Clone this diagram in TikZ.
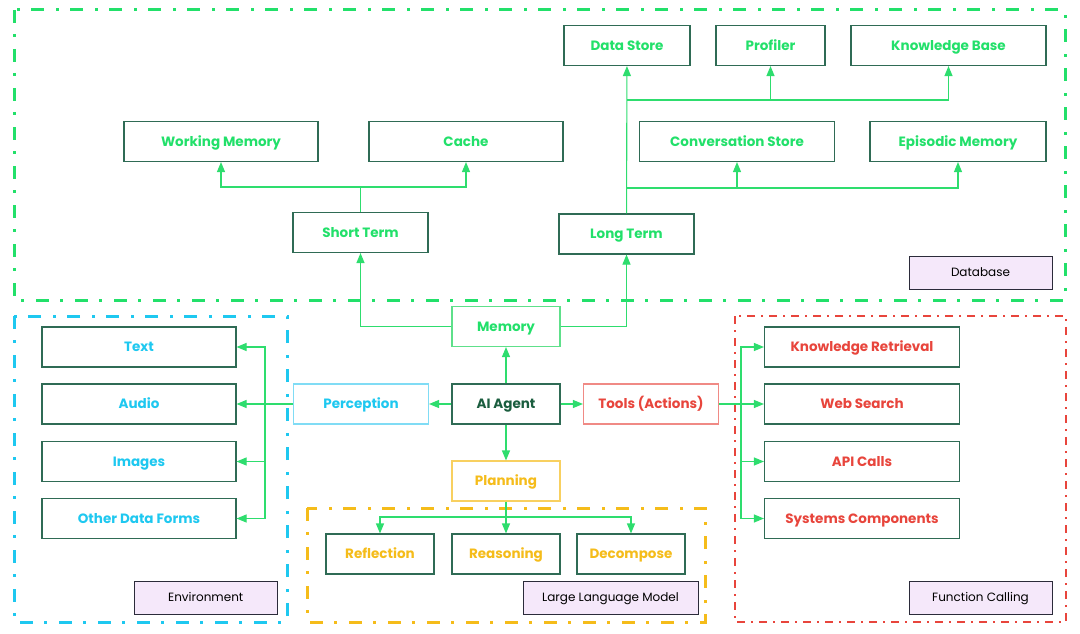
\documentclass[tikz,border=0pt]{standalone}
\usepackage{fontspec}
\setmainfont{Poppins}
\usepackage{xcolor}
\usepackage{tikz}
\usetikzlibrary{calc,positioning,arrows.meta}

\definecolor{dbgreen}{HTML}{22E06A}
\definecolor{boxline}{HTML}{2F6B55}
\definecolor{agenttext}{HTML}{1B5E3F}
\definecolor{envcyan}{HTML}{1EC8F0}
\definecolor{envline}{HTML}{80DCF5}
\definecolor{toolred}{HTML}{E8453C}
\definecolor{toolline}{HTML}{F08A85}
\definecolor{llmyellow}{HTML}{F5BC1A}
\definecolor{llmline}{HTML}{F8D060}
\definecolor{memline}{HTML}{5EE08A}
\definecolor{link}{HTML}{2EDD6E}
\definecolor{tagfill}{HTML}{F5E8FA}
\definecolor{tagline}{HTML}{2B2B3A}

\begin{document}
\begin{tikzpicture}[
	x=1pt, y=-1pt,
	>={Triangle[length=10pt,width=8pt]},
	box/.style={draw=boxline, line width=1.1pt, fill=white, inner sep=0pt,
		minimum height=40pt, text height=9.5pt, text depth=0pt,
		font=\bfseries\fontsize{13.5}{15}\selectfont},
	dbbox/.style={box, text=dbgreen},
	envbox/.style={box, text=envcyan, minimum width=194pt},
	toolbox/.style={box, text=toolred, minimum width=195pt},
	llmbox/.style={box, text=llmyellow, minimum width=108pt},
	tag/.style={draw=tagline, line width=1pt, fill=tagfill, inner sep=0pt,
		minimum width=143pt, minimum height=33pt, text height=8.5pt, text depth=0pt,
		font=\fontsize{12}{14}\selectfont},
	group/.style={line width=3pt, dash pattern=on 13pt off 11pt on 3pt off 12pt},
	wire/.style={color=link, line width=1.1pt}
  ]
  \useasboundingbox (0,0) rectangle (1080,634);

  % groups
  \draw[group, dbgreen]   (14,10) rectangle (1065,300);
  \draw[group, envcyan]   (14,316) rectangle (287,622);
  \draw[group, llmyellow] (307,508) rectangle (705,622);
  \draw[toolred, line width=2pt, dash pattern=on 8pt off 6pt on 2pt off 6pt]
  	(735,316) rectangle (1066,622);

  % centre
  \node[box, text=agenttext, minimum width=108pt] (agent) at (506,404) {AI Agent};
  \node[box, draw=memline, text=dbgreen, minimum width=108pt] (mem) at (506,326.5) {Memory};
  \node[box, draw=envline, text=envcyan, minimum width=135pt] (perc) at (361,404) {Perception};
  \node[box, draw=toolline, text=toolred, minimum width=135pt] (tools) at (651,404) {Tools (Actions)};
  \node[box, draw=llmline, text=llmyellow, minimum width=108pt] (plan) at (506,481) {Planning};

  % memory
  \node[dbbox, minimum width=135pt] (short) at (360.5,232.5) {Short Term};
  \node[dbbox, minimum width=135pt] (long) at (626.5,234) {Long Term};
  \node[dbbox, minimum width=194pt] (work) at (221,141.5) {Working Memory};
  \node[dbbox, minimum width=194pt] (cache) at (466,141.5) {Cache};
  \node[dbbox, minimum width=126pt] (store) at (627,45.5) {Data Store};
  \node[dbbox, minimum width=109pt] (prof) at (770.5,45.5) {Profiler};
  \node[dbbox, minimum width=195pt] (kb) at (948.5,45.5) {Knowledge Base};
  \node[dbbox, minimum width=195pt] (conv) at (737,141.5) {Conversation Store};
  \node[dbbox, minimum width=176pt] (epis) at (958,141.5) {Episodic Memory};

  % environment
  \node[envbox] (text) at (139,347) {Text};
  \node[envbox] (audio) at (139,404) {Audio};
  \node[envbox] (img) at (139,461.5) {Images};
  \node[envbox] (other) at (139,518.5) {Other Data Forms};

  % function calling
  \node[toolbox] (kr) at (862,347) {Knowledge Retrieval};
  \node[toolbox] (web) at (862,404) {Web Search};
  \node[toolbox] (api) at (862,461.5) {API Calls};
  \node[toolbox] (sys) at (862,518.5) {Systems Components};

  % planning
  \node[llmbox] (refl) at (380,554) {Reflection};
  \node[llmbox] (reas) at (506,554) {Reasoning};
  \node[llmbox] (dec) at (631,554) {Decompose};

  % tags
  \node[tag] (dbtag) at (980.5,272.5) {Database};
  \node[tag] (envtag) at (205.7,597.7) {Environment};
  \node[tag, minimum width=175pt] (llmtag) at (610.5,597.7) {Large Language Model};
  \node[tag] (fctag) at (980.5,597.7) {Function Calling};

  % joints
  \coordinate (sj) at (360.5,187);
  \coordinate (lj1) at (627,188);
  \coordinate (lj2) at (627,100);
  \coordinate (pj) at (265,404);
  \coordinate (tj) at (741,404);
  \coordinate (plj) at (506,517);

  \path[wire, ->] (agent) edge (mem)
  	(agent) edge (perc)
  	(agent) edge (tools)
  	(agent) edge (plan)
  	(perc) edge (audio)
  	(tools) edge (web)
  	(plan) edge (reas)
  	(long) edge (store);
  \draw[wire, ->] (mem.west) -| (short.south);
  \draw[wire, ->] (mem.east) -| (long.south);
  \draw[wire] (short.north) -- (sj);
  \draw[wire, ->] (sj) -| (work.south);
  \draw[wire, ->] (sj) -| (cache.south);
  \draw[wire, ->] (lj1) -| (conv.south);
  \draw[wire, ->] (lj1) -| (epis.south);
  \draw[wire, ->] (lj2) -| (prof.south);
  \draw[wire, ->] (lj2) -| (kb.south);
  \draw[wire, ->] (pj) |- (text.east);
  \draw[wire, ->] (pj) |- (img.east);
  \draw[wire, ->] (pj) |- (other.east);
  \draw[wire, ->] (tj) |- (kr.west);
  \draw[wire, ->] (tj) |- (api.west);
  \draw[wire, ->] (tj) |- (sys.west);
  \draw[wire, ->] (plj) -| (refl.north);
  \draw[wire, ->] (plj) -| (dec.north);
\end{tikzpicture}
\end{document}
